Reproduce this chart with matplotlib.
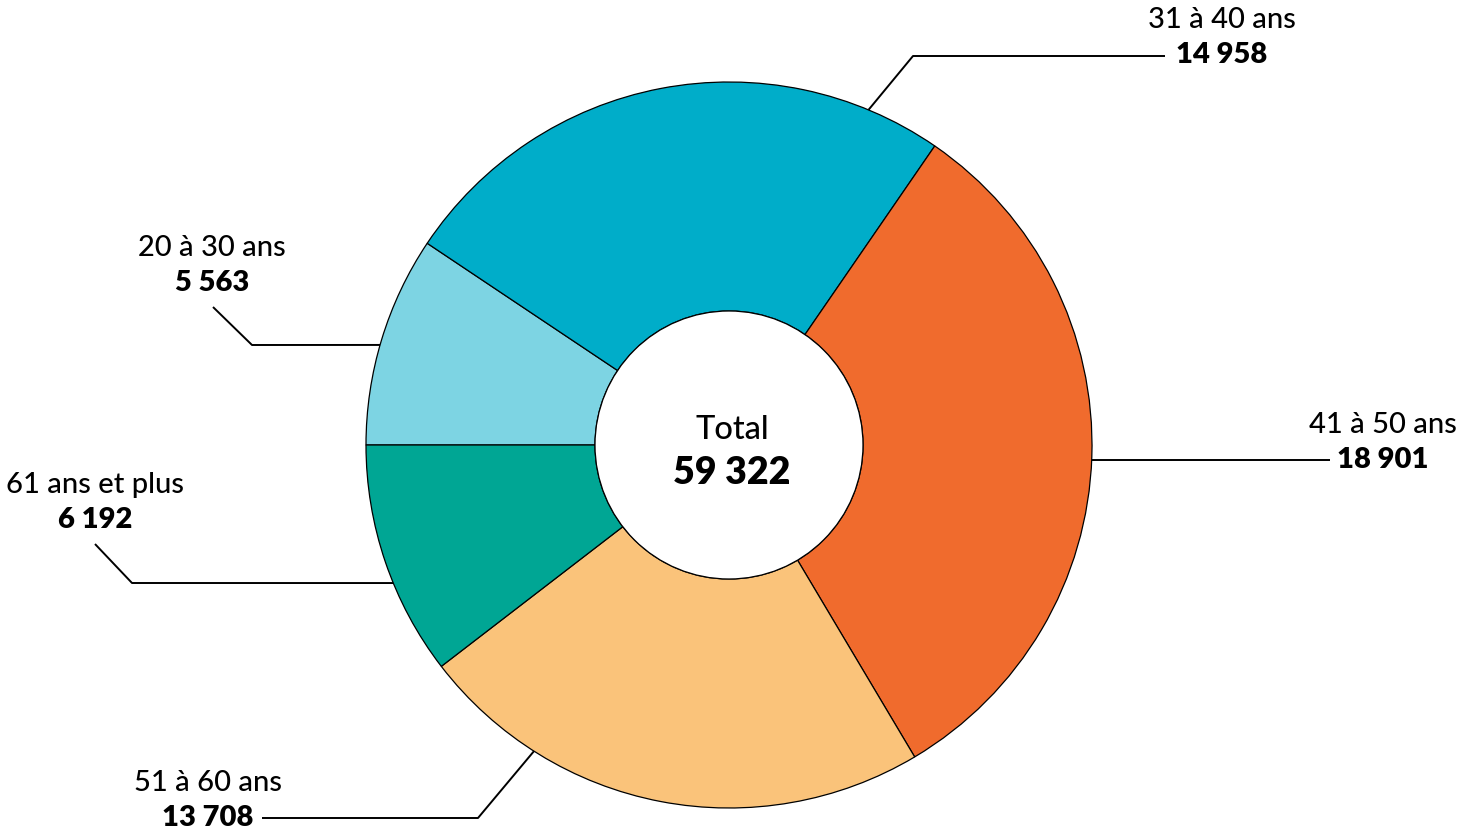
import matplotlib.pyplot as plt
import numpy as np

plt.rcParams["font.family"] = ["Lato", "DejaVu Sans"]

labels = ["20 à 30 ans", "31 à 40 ans", "41 à 50 ans", "51 à 60 ans", "61 ans et plus"]
values = [5563, 14958, 18901, 13708, 6192]
colors = ["#7dd4e3", "#00adc9", "#f06b2d", "#fac37a", "#00a694"]
total = sum(values)


def fmt(v):
    return f"{v:,}".replace(",", " ")


W, H = 1459, 838
fig = plt.figure(figsize=(W / 100, H / 100), dpi=100)
ax = fig.add_axes([0, 0, 1, 1])
ax.set_xlim(0, W)
ax.set_ylim(0, H)
ax.set_aspect("equal")
ax.axis("off")

cx, cy = 729, H - 445
r_out, r_in = 363, 134

ax.pie(values, colors=colors, startangle=180, counterclock=False,
       center=(cx, cy), radius=r_out,
       wedgeprops=dict(width=r_out - r_in, edgecolor="black", linewidth=0.9))
ax.add_patch(plt.Circle((cx, cy), r_in, facecolor="white", edgecolor="black", lw=0.9))
ax.set_xlim(0, W)
ax.set_ylim(0, H)

ax.text(cx + 3, cy + 15, "Total", ha="center", va="center", fontsize=23.5,
        fontweight="medium", color="black")
ax.text(cx + 3, cy - 28, fmt(total), ha="center", va="center", fontsize=27,
        fontweight="heavy", color="black")

# leader lines: angle on the ring, then path points (pixel coords, y from top)
leaders = {
    "20 à 30 ans": (164.0, [(252, 345), (213, 307)], (212, 248)),
    "31 à 40 ans": (67.4, [(913, 56), (1165, 56)], (1222, 20)),
    "41 à 50 ans": (-2.37, [(1330, 460)], (1383, 425)),
    "51 à 60 ans": (237.5, [(478, 818), (262, 818)], (208, 783)),
    "61 ans et plus": (202.35, [(132, 583), (95, 544)], (95, 485)),
}

for lab, v in zip(labels, values):
    ang, pts, (tx, ty) = leaders[lab]
    a = np.deg2rad(ang)
    xs = [cx + r_out * np.cos(a)] + [p[0] for p in pts]
    ys = [cy + r_out * np.sin(a)] + [H - p[1] for p in pts]
    ax.plot(xs, ys, color="black", lw=1.4, solid_capstyle="butt")
    ax.text(tx, H - ty, lab, ha="center", va="center", fontsize=21,
            fontweight="medium", color="black")
    ax.text(tx, H - ty - 35, fmt(v), ha="center", va="center", fontsize=21,
            fontweight="heavy", color="black")

fig.savefig("out.png", dpi=100)
